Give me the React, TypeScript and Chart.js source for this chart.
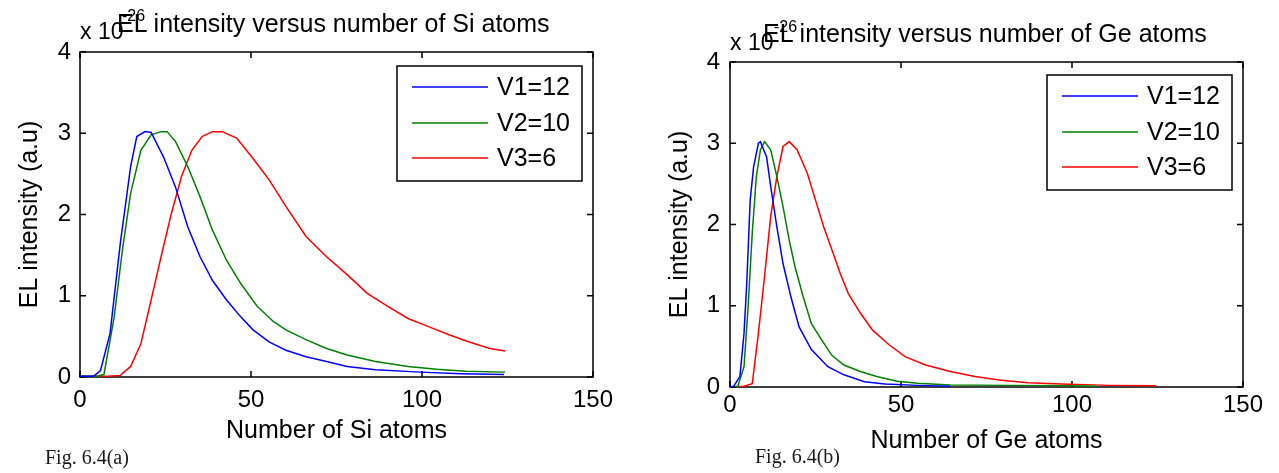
import React, { useEffect, useRef } from "react";
import { Chart, registerables } from "chart.js";

Chart.register(...registerables);

// ---------- DATA ----------
const seriesLabels = ["V1=12", "V2=10", "V3=6"];
const seriesColors = ["#0000ff", "#008000", "#ff0000"];

const xTicksMax = 150;
const yTicksMax = 4;

// Fig 6.4(a) — Si
const siV1X = [0, 4, 6, 8.8, 11.8, 14.8, 16.6, 19, 20.8, 24.4, 27.9, 31.5, 35.1, 38.7, 42.8, 47, 50.6, 55.4, 60.2, 66.1, 72.1, 78.1, 86.4, 99.5, 111.4, 124];
const siV1Y = [0.01, 0.01, 0.08, 0.54, 1.65, 2.59, 2.96, 3.02, 3.01, 2.71, 2.34, 1.85, 1.48, 1.19, 0.95, 0.74, 0.58, 0.43, 0.33, 0.25, 0.19, 0.13, 0.09, 0.06, 0.04, 0.03];

const siV2X = [0, 5, 7, 10, 12.4, 14.8, 17.8, 20.8, 23.7, 25.5, 27.9, 31.5, 35.1, 38.7, 42.8, 47, 51.8, 56.6, 60.2, 66.1, 72.1, 78.1, 86.4, 95.9, 104.3, 112.7, 124.3];
const siV2Y = [0.01, 0.01, 0.03, 0.74, 1.56, 2.26, 2.79, 2.98, 3.02, 3.02, 2.9, 2.59, 2.22, 1.81, 1.44, 1.15, 0.87, 0.68, 0.58, 0.46, 0.35, 0.27, 0.19, 0.13, 0.095, 0.07, 0.06];

const siV3X = [0, 8, 11.8, 14.8, 17.8, 20.8, 23.7, 26.7, 29.7, 32.7, 35.7, 38.7, 41.6, 45.8, 50.6, 55.4, 60.2, 66.1, 72.1, 78.1, 84, 90, 95.9, 101.9, 107.9, 113.8, 119.8, 124.3];
const siV3Y = [0.01, 0.01, 0.02, 0.13, 0.41, 0.95, 1.48, 2.01, 2.47, 2.79, 2.96, 3.02, 3.02, 2.94, 2.69, 2.42, 2.1, 1.73, 1.48, 1.26, 1.03, 0.87, 0.72, 0.62, 0.52, 0.43, 0.35, 0.32];

// Fig 6.4(b) — Ge
const geV1X = [0, 1.1, 2.9, 4.1, 4.9, 5.9, 6.9, 8.3, 8.9, 10.7, 11.9, 13.7, 15.5, 17.8, 20.2, 23.8, 28.6, 33.3, 39.3, 45.3, 54.9, 64.4];
const geV1Y = [0, 0.01, 0.13, 0.66, 1.28, 2.3, 2.71, 3.0, 3.02, 2.83, 2.47, 1.97, 1.52, 1.11, 0.74, 0.46, 0.25, 0.15, 0.065, 0.037, 0.02, 0.01];

const geV2X = [0, 2.3, 4.1, 5.3, 6.5, 7.7, 8.9, 10.1, 11.9, 13.7, 15.5, 17.3, 19, 21.4, 23.8, 26.8, 29.8, 33.3, 38.1, 42.9, 48.9, 54.9, 64.4, 81.1, 99, 107.1];
const geV2Y = [0, 0.01, 0.25, 0.99, 1.89, 2.59, 2.92, 3.02, 2.92, 2.59, 2.22, 1.81, 1.48, 1.11, 0.78, 0.58, 0.39, 0.27, 0.19, 0.13, 0.07, 0.045, 0.025, 0.02, 0.015, 0.01];

const geV3X = [0, 4.1, 6.5, 8.3, 10.1, 11.9, 13.7, 15.5, 17.3, 19.6, 22.6, 25, 27.4, 29.8, 32.2, 34.6, 38.1, 41.7, 46.5, 51.3, 57.2, 64.4, 71.6, 78.7, 87.1, 99, 110.9, 124.6];
const geV3Y = [0, 0.01, 0.04, 0.66, 1.36, 2.1, 2.59, 2.96, 3.02, 2.92, 2.63, 2.3, 1.97, 1.69, 1.4, 1.15, 0.91, 0.7, 0.52, 0.37, 0.27, 0.19, 0.13, 0.086, 0.053, 0.033, 0.02, 0.015];

// ---------- STYLE ----------
const FONT = "'Liberation Sans', Arial, Helvetica, sans-serif";
const SERIF = "'Liberation Serif', 'Times New Roman', serif";

const zip = (xs: number[], ys: number[]) => xs.map((x, i) => ({ x, y: ys[i] }));

const framePlugin = {
  id: "matlabFrame",
  beforeDatasetsDraw(chart: any) {
    const { ctx, chartArea: a, scales } = chart;
    ctx.save();
    ctx.strokeStyle = "#000";
    ctx.lineWidth = 1.5;
    ctx.strokeRect(a.left, a.top, a.right - a.left, a.bottom - a.top);
    const len = 6;
    ctx.beginPath();
    scales.x.ticks.forEach((t: any) => {
      const px = scales.x.getPixelForValue(t.value);
      ctx.moveTo(px, a.bottom);
      ctx.lineTo(px, a.bottom - len);
      ctx.moveTo(px, a.top);
      ctx.lineTo(px, a.top + len);
    });
    scales.y.ticks.forEach((t: any) => {
      const py = scales.y.getPixelForValue(t.value);
      ctx.moveTo(a.left, py);
      ctx.lineTo(a.left + len, py);
      ctx.moveTo(a.right, py);
      ctx.lineTo(a.right - len, py);
    });
    ctx.stroke();
    ctx.restore();
  },
};

const legendPlugin = {
  id: "insideLegend",
  afterDraw(chart: any, _args: any, opts: any) {
    const { ctx, chartArea: a } = chart;
    const w = opts.width;
    const h = opts.height;
    const left = a.right - opts.right - w;
    const top = a.top + opts.top;
    ctx.save();
    ctx.fillStyle = "#fff";
    ctx.fillRect(left, top, w, h);
    ctx.strokeStyle = "#000";
    ctx.lineWidth = 1.5;
    ctx.strokeRect(left, top, w, h);
    ctx.font = `${opts.fontSize}px ${FONT}`;
    ctx.textBaseline = "middle";
    chart.data.datasets.forEach((ds: any, i: number) => {
      const y = top + opts.rows[i];
      ctx.strokeStyle = ds.borderColor;
      ctx.lineWidth = 1.5;
      ctx.beginPath();
      ctx.moveTo(left + 15, y);
      ctx.lineTo(left + 91, y);
      ctx.stroke();
      ctx.fillStyle = "#000";
      ctx.fillText(ds.label, left + 100, y + 1);
    });
    ctx.restore();
  },
};

type PanelCfg = {
  xs: number[][];
  ys: number[][];
  xTitle: string;
  padTop: number;
  padRight: number;
  yWidth: number;
  xHeight: number;
  yTickPad: number;
  xTickPad: number;
  yTitlePad: number;
  xTitlePad: number;
  legendRight: number;
  legendTop: number;
};

function makeConfig(p: PanelCfg): any {
  return {
    type: "line",
    data: {
      datasets: seriesLabels.map((label, i) => ({
        label,
        data: zip(p.xs[i], p.ys[i]),
        borderColor: seriesColors[i],
        backgroundColor: seriesColors[i],
        borderWidth: 1.5,
        pointRadius: 0,
        tension: 0,
        fill: false,
      })),
    },
    options: {
      animation: false,
      responsive: false,
      maintainAspectRatio: false,
      layout: { padding: { top: p.padTop, right: p.padRight, left: 0, bottom: 0 } },
      plugins: {
        legend: { display: false },
        tooltip: { enabled: false },
        insideLegend: {
          width: 185,
          height: 115,
          right: p.legendRight,
          top: p.legendTop,
          fontSize: 25,
          rows: [21, 57, 92],
        },
      },
      scales: {
        x: {
          type: "linear",
          min: 0,
          max: xTicksMax,
          ticks: {
            stepSize: 50,
            color: "#000",
            font: { size: 24, family: FONT },
            padding: p.xTickPad,
            maxRotation: 0,
            autoSkip: false,
          },
          grid: { display: false, drawTicks: false },
          border: { display: false },
          title: {
            display: true,
            text: p.xTitle,
            color: "#000",
            font: { size: 25, family: FONT },
            padding: { top: 0, bottom: p.xTitlePad },
          },
          afterFit: (s: any) => {
            s.height = p.xHeight;
          },
        },
        y: {
          type: "linear",
          min: 0,
          max: yTicksMax,
          ticks: {
            stepSize: 1,
            color: "#000",
            font: { size: 24, family: FONT },
            padding: p.yTickPad,
          },
          grid: { display: false, drawTicks: false },
          border: { display: false },
          title: {
            display: true,
            text: "EL intensity (a.u)",
            color: "#000",
            font: { size: 25, family: FONT },
            padding: { top: p.yTitlePad, bottom: 0 },
          },
          afterFit: (s: any) => {
            s.width = p.yWidth;
          },
        },
      },
    },
    plugins: [framePlugin, legendPlugin],
  };
}

function Panel({ cfg, left, width }: { cfg: PanelCfg; left: number; width: number }) {
  const ref = useRef<HTMLCanvasElement | null>(null);
  useEffect(() => {
    if (!ref.current) return;
    const chart = new Chart(ref.current, makeConfig(cfg));
    return () => chart.destroy();
  }, []);
  return (
    <canvas
      ref={ref}
      width={width}
      height={473}
      style={{ position: "absolute", left, top: 0, width, height: 473 }}
    />
  );
}

const siCfg: PanelCfg = {
  xs: [siV1X, siV2X, siV3X],
  ys: [siV1Y, siV2Y, siV3Y],
  xTitle: "Number of Si atoms",
  padTop: 52,
  padRight: 47,
  yWidth: 80,
  xHeight: 96,
  yTickPad: 9,
  xTickPad: 9,
  yTitlePad: 15,
  xTitlePad: 27,
  legendRight: 11,
  legendTop: 14,
};

const geCfg: PanelCfg = {
  xs: [geV1X, geV2X, geV3X],
  ys: [geV1Y, geV2Y, geV3Y],
  xTitle: "Number of Ge atoms",
  padTop: 62,
  padRight: 36,
  yWidth: 90,
  xHeight: 86,
  yTickPad: 10,
  xTickPad: 4,
  yTitlePad: 25,
  xTitlePad: 17,
  legendRight: 11,
  legendTop: 13,
};

const txt = (left: number, top: number, size: number, family = FONT): React.CSSProperties => ({
  position: "absolute",
  left,
  top,
  fontSize: size,
  lineHeight: 1,
  fontFamily: family,
  whiteSpace: "nowrap",
  color: "#000",
});

export default function App() {
  return (
    <div
      style={{
        position: "fixed",
        left: 0,
        top: 0,
        width: 1279,
        height: 473,
        background: "#fff",
        overflow: "hidden",
      }}
    >
      <Panel cfg={siCfg} left={0} width={640} />
      <Panel cfg={geCfg} left={640} width={639} />

      {/* left panel header */}
      <div style={txt(80, 19.5, 23)}>x 10</div>
      <div style={txt(122, 8, 16)}>-26</div>
      <div style={txt(117, 10.8, 25)}>EL intensity versus number of Si atoms</div>

      {/* right panel header */}
      <div style={txt(730, 30.5, 23)}>x 10</div>
      <div style={txt(774, 19, 16)}>-26</div>
      <div style={txt(763, 20.8, 25)}>EL intensity versus number of Ge atoms</div>

      {/* captions */}
      <div style={{ ...txt(45, 447, 20, SERIF), color: "#1a1a1a" }}>Fig. 6.4(a)</div>
      <div style={{ ...txt(755, 446, 20, SERIF), color: "#1a1a1a" }}>Fig. 6.4(b)</div>
    </div>
  );
}
